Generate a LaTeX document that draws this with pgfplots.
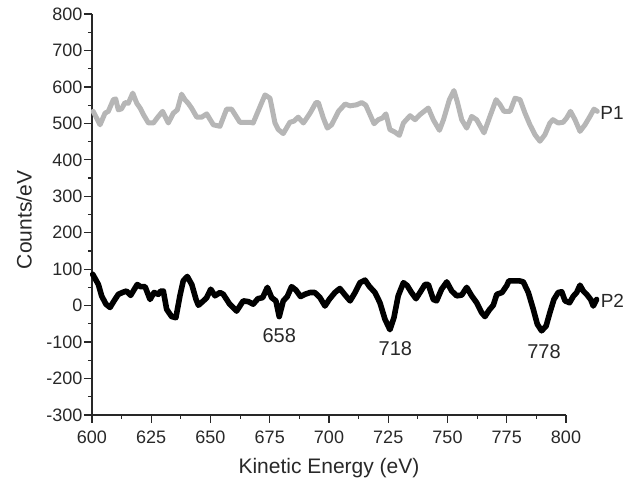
\documentclass[border=0pt]{standalone}
\usepackage{fontspec}
\setmainfont{Liberation Sans}
\usepackage{pgfplots}
\pgfplotsset{compat=1.18}
\usetikzlibrary{calc}
\definecolor{pone}{RGB}{182,182,182}
\definecolor{axisgray}{RGB}{40,40,40}
\begin{document}
\begin{tikzpicture}
\useasboundingbox (-92pt,-66pt) rectangle (545pt,415pt);
\begin{axis}[
  at={(0,0)}, anchor=south west,
  scale only axis, width=474pt, height=401pt,
  xmin=600, xmax=800, ymin=-300, ymax=800,
  axis lines*=left,
  axis line style={axisgray, line width=1.4pt},
  clip=false,
  xtick={600,625,...,800}, ytick={-300,-200,...,800},
  minor x tick num=1, minor y tick num=1,
  tick align=outside,
  major tick length=8pt, minor tick length=4pt,
  every tick/.style={axisgray, line width=1.2pt},
  /pgf/number format/assume math mode=true,
  /pgf/number format/1000 sep={},
  every tick label/.append style={font=\fontsize{18}{21}\selectfont, text=axisgray},
  yticklabel style={anchor=east, inner sep=0pt, xshift=-1.5pt},
  xticklabel style={anchor=north, inner sep=0pt, yshift=-8.2pt},
  xlabel={Kinetic Energy (eV)},
  ylabel={Counts/eV},
  label style={font=\fontsize{21}{24}\selectfont, text=axisgray},
  xlabel style={at={($(axis description cs:0.5,0)+(0,-59pt)$)}, anchor=base},
  ylabel style={at={($(axis description cs:0,0.5)+(-60.3pt,-5.5pt)$)}, anchor=base, rotate=0},
]
\addplot[pone, line width=5pt, line join=round, line cap=round] coordinates {
(600.5,533) (603.4,496) (605.5,528) (606.9,533) (609,565) (610,567) (611.1,537)
(612.5,540) (613.9,557) (615.3,555) (617.2,583) (618.9,555) (620.3,542) (621.7,524)
(623.8,501) (625.9,501) (628,519) (629.8,533) (632.2,501) (634.3,528) (636,537)
(637.8,580) (639.2,565) (640.6,555) (642,542) (644.2,517) (646.3,517) (648.4,526)
(651.2,496) (654,492) (656.8,539) (658.9,539) (662.4,503) (666.6,503) (668,501)
(670.9,546) (673,578) (675.1,569) (677.2,501) (678.6,483) (680.7,472) (683.5,503)
(685.2,506) (687,517) (689.2,501) (692,528) (694.5,557) (695.5,557) (697.6,515)
(699.3,487) (701.1,496) (704,533) (706.8,553) (708.9,548) (711.7,551) (713.8,557)
(715.5,550) (717.3,524) (719,499) (720.8,510) (722.6,515) (724,526) (725.7,483)
(727.8,476) (729.7,467) (731.4,501) (734.2,521) (736.3,510) (738.4,524) (741.9,542)
(744,510) (746.6,481) (748.3,510) (750.8,565) (752.7,590) (754.1,560) (756,510)
(758.1,487) (760.2,519) (762.3,510) (765.4,474) (767.9,519) (770.5,565) (772.2,551)
(773.8,533) (776.4,533) (778.5,569) (780.6,565) (782.7,528) (784.8,496) (786.9,469)
(789,451) (791.1,469) (793.2,501) (794.5,510) (796.7,501) (798.8,503) (800.3,515)
(801.9,533) (803.8,510) (805.9,478) (808,496) (810.1,519) (811.8,539) (813.2,533)
};
\addplot[black, line width=5.6pt, line join=round, line cap=round] coordinates {
(600.3,86) (602.7,58) (604.1,26) (605.9,4) (607.6,-5) (609.3,13) (611.1,31)
(613.2,37) (614.6,40) (616.3,28) (617.4,40) (619.1,58) (620.5,52) (622.4,52)
(624.5,17) (626.2,36) (628,31) (629,40) (630.1,40) (631.5,-10) (633.6,-30)
(635.4,-33) (637.1,27) (638.5,68) (640.2,80) (642.1,58) (643.9,17) (644.9,1)
(647,13) (648.4,22) (650.1,45) (651.9,27) (654,36) (655.4,31) (658,5)
(661,-15) (663.8,13) (666,11) (668,4) (670,19) (672,22) (674,50)
(675.8,22) (677.6,13) (679,-30) (680.7,13) (682.4,25) (684.2,52) (686,43)
(688,25) (689.8,31) (692,36) (694,36) (696.2,22) (698.3,-1) (700.1,17)
(702.5,36) (704.6,47) (706.8,29) (708.9,13) (711,36) (713.1,63) (715.2,70)
(717,53) (719.4,36) (721.5,8) (723.6,-37) (725.7,-66) (727.4,-33) (729.2,27)
(731.4,63) (733,55) (734.8,36) (736.7,19) (738.4,36) (740.5,58) (741.9,58)
(744,17) (745.4,13) (747.5,45) (749.7,65) (751.8,40) (753.9,27) (756,29)
(758.1,50) (760.2,27) (762.3,8) (764.4,-19) (765.8,-30) (767.6,-12) (769.3,1)
(770.8,31) (773,36) (775,55) (775.9,68) (777.8,68) (780.3,68) (782,65)
(784.1,36) (786.2,-10) (787.9,-51) (789.7,-69) (791.6,-56) (793.2,-19) (794.9,17)
(796.7,36) (798.2,38) (799.6,13) (801.5,8) (803.1,26) (804.5,36) (805.9,56)
(807.3,40) (808.7,31) (810.4,17) (811.5,-1) (812.9,17)
};
\node[font=\fontsize{20}{24}\selectfont, text=axisgray, inner sep=0pt] at (axis cs:679,-83) {658};
\node[font=\fontsize{20}{24}\selectfont, text=axisgray, inner sep=0pt] at (axis cs:728,-117) {718};
\node[font=\fontsize{20}{24}\selectfont, text=axisgray, inner sep=0pt] at (axis cs:790.7,-127) {778};
\node[font=\fontsize{19}{22}\selectfont, text=axisgray, inner sep=0pt, anchor=west] at (axis cs:814.4,528) {P1};
\node[font=\fontsize{19}{22}\selectfont, text=axisgray, inner sep=0pt, anchor=west] at (axis cs:814.6,12) {P2};
\end{axis}
\end{tikzpicture}
\end{document}
